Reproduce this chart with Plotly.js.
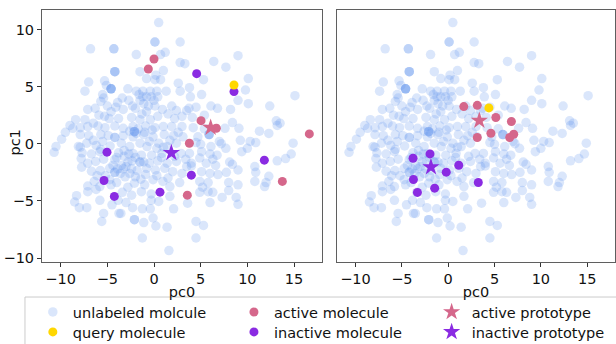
<!DOCTYPE html>
<html><head><meta charset="utf-8">
<script src="https://cdn.plot.ly/plotly-3.0.1.min.js"></script>
<style>html,body{margin:0;padding:0;background:#fff}#chart{width:616px;height:344px}</style>
</head><body><div id="chart"></div>
<script>
// unlabeled molecules (same embedding drawn in both panels)
const unlabeledX = [0.5,0.1,0.1,2.8,-6.8,-4.3,-4.3,1.2,0.7,-1.9,9.0,6.4,2.8,3.3,7.7,-4.2,-4.2,-4.2,
-1.5,1.0,0.2,-0.8,0.1,0.7,5.3,10.1,2.6,-7.0,-5.3,-5.1,-4.6,-4.6,-4.6,-4.6,-7.4,-2.8,-1.9,-1.2,-0.4,0.3,1.3,3.8,2.8,9.8,
-5.5,-5.4,-5.7,-6.3,-7.1,15.1,5.1,3.9,9.0,10.1,12.4,6.8,6.1,4.5,3.75,2.4,1.9,8.2,-3.4,-2.7,-1.2,-0.3,0.0,-1.1,-1.5,-2.0,
-4.1,-5.0,-3.3,-0.8,0.9,1.5,0.4,3.0,4.1,5.4,-8.4,-7.4,-6.5,-5.3,-4.8,-3.8,-2.4,-1.5,-0.4,8.4,13.1,13.5,13.2,9.1,7.6,11.3,12.3,
-9.0,-8.7,-7.9,-7.1,-6.0,-5.25,-4.2,-3.3,-2.25,-0.9,0.1,1.0,1.9,3.0,4.2,-9.5,-7.9,-7.0,-5.7,-4.2,-4.2,-3.3,-2.1,-2.1,-2.1,
-2.25,-1.1,-0.1,1.1,2.1,3.1,4.7,5.9,5.9,5.9,7.0,9.25,10.3,10.9,14.9,-9.9,-10.5,-8.1,-7.2,-6.2,-5.5,-4.7,-3.5,-2.6,-1.5,
-0.75,0.5,1.4,2.4,5.0,6.1,7.2,-10.7,-7.7,-6.7,-5.8,-3.8,-3.2,-2.25,-1.35,-0.25,0.85,2.9,3.8,5.1,6.0,6.75,9.4,10.0,14.7,14.1,
-7.8,-7.1,-6.25,-5.4,-4.2,-2.35,-1.5,-1.5,-0.5,0.4,1.4,2.4,3.4,4.0,4.9,5.6,6.3,8.4,9.0,10.8,13.2,-7.75,-6.7,-5.75,-4.75,
-4.2,-4.2,-3.3,-2.6,-1.8,-0.8,0.15,1.15,2.0,3.0,4.0,5.1,6.0,6.85,7.75,10.9,12.3,12.0,10.8,9.0,8.0,-7.1,-6.4,-5.8,-4.75,
-4.0,-2.8,-2.1,-1.0,-0.1,0.95,1.7,2.75,4.9,5.8,11.85,-8.3,-7.1,-6.2,-3.4,-2.4,-1.35,-0.3,1.7,4.9,5.8,6.3,7.3,8.0,8.8,
-8.5,-5.8,-3.85,-3.0,-2.3,-1.25,-0.3,0.5,2.1,3.6,6.0,9.0,-8.0,-7.2,-5.4,-4.5,-3.75,-3.55,-0.4,-2.1,-2.1,-1.1,-0.1,0.2,
1.4,4.5,5.3,-5.6,-1.25,4.5,1.6,
-3.5,-3.0,-2.8,-3.9,-4.4,-3.6,-3.1,-2.4,-4.0,-3.2,-2.7,-2.0,-1.9,-1.7,-2.6,-1.0,-0.5,0.3,-0.2,-1.3,-0.6,-1.6,-0.8,0.4,
0.1,-2.3,1.0,0.8,-1.1,-0.9,2.2,1.7,2.6,3.5,2.2,-4.6,-3.9,-5.9,-4.9,-5.7,-6.5,-5.2,-6.1,-4.6,-2.0,-1.4,0.3,1.5,3.5,4.5,
5.4,6.6,7.7,8.1,5.2,-7.9];
const unlabeledY = [10.6,8.9,8.9,8.9,8.3,8.3,8.3,8.0,7.8,7.8,7.7,7.2,7.1,7.0,6.7,6.3,6.3,6.3,
6.3,6.4,6.0,5.7,5.6,5.6,5.6,5.7,5.3,5.4,5.5,5.1,4.8,4.8,4.8,4.8,4.6,4.8,4.6,4.6,4.6,4.6,4.6,4.9,4.6,4.7,
4.3,4.0,3.7,3.1,3.0,4.2,4.3,4.1,3.8,3.5,3.3,3.1,3.3,3.2,3.1,2.9,3.3,3.0,4.0,3.8,4.1,4.1,3.8,3.5,3.8,3.1,
3.2,3.3,3.0,2.8,3.0,2.6,2.4,2.4,2.3,2.5,2.1,2.1,1.8,2.4,2.2,2.2,2.3,2.1,2.1,1.85,2.0,1.8,1.6,1.35,1.35,1.1,0.9,
1.6,1.35,1.4,1.5,1.55,1.4,1.55,1.35,1.5,1.55,1.4,1.5,1.5,1.5,1.4,1.0,0.8,0.7,0.8,0.55,0.55,0.7,1.05,1.05,1.05,
0.6,0.8,0.6,0.8,0.7,0.6,0.6,0.8,0.8,0.8,0.2,0.3,0.2,0.1,0.05,0.4,-0.25,-0.25,0.05,-0.15,0.2,-0.2,0.05,-0.25,0.05,
-0.25,0.05,-0.25,0.05,-0.05,-0.25,0.0,-0.75,-0.8,-0.9,-0.7,-0.8,-1.1,-0.85,-1.0,-1.0,-0.85,-0.85,-0.85,-0.7,-0.9,-1.0,-0.7,-0.4,-0.9,-1.3,
-1.3,-1.7,-1.55,-1.35,-1.4,-1.5,-1.6,-1.6,-1.7,-1.5,-1.7,-1.55,-1.35,-1.7,-1.25,-1.7,-1.35,-1.8,-2.3,-2.0,-1.5,-2.05,-2.4,-2.35,-2.15,
-2.5,-2.5,-2.2,-2.6,-2.35,-2.15,-2.3,-2.15,-2.45,-2.6,-1.95,-2.45,-2.6,-2.7,-2.5,-2.5,-2.85,-3.4,-3.3,-3.6,-3.4,-3.7,-3.3,-3.75,-3.15,
-3.4,-3.8,-3.45,-3.6,-3.15,-3.3,-3.75,-3.4,-3.3,-3.4,-3.75,-4.55,-4.2,-4.0,-4.25,-4.5,-4.2,-4.4,-4.6,-4.25,-4.2,-4.25,-4.7,-4.1,-4.7,
-5.1,-4.95,-4.95,-5.15,-5.6,-5.7,-4.95,-5.05,-5.7,-5.2,-5.15,-5.3,-5.6,-5.6,-6.1,-5.35,-6.1,-6.1,-5.7,-6.65,-6.65,-6.9,-6.5,-7.2,
-7.3,-6.8,-7.15,-6.8,-8.25,-8.25,-9.35,
-1.9,-2.0,-1.6,-2.2,-1.9,-2.6,-2.9,-2.2,-1.2,-0.6,-0.9,-1.2,0.9,1.3,1.1,1.0,0.2,-0.4,1.2,2.6,3.3,4.3,4.1,4.1,
3.3,3.3,-0.3,-1.2,-1.6,-2.7,-1.1,0.3,1.0,2.9,2.2,2.8,3.6,2.5,0.7,-0.5,0.3,-2.8,-2.8,-3.6,-2.9,-3.1,-2.8,-3.0,-2.0,0.1,
1.3,-1.9,-0.4,-1.6,-3.8,-0.3];

// left panel labeled molecules
const leftActiveX = [0.0,-0.61,5.04,6.68,3.79,16.64,13.75,3.57];
const leftActiveY = [7.41,6.54,2.02,1.35,0.04,0.86,-3.30,-4.50];
const leftInactiveX = [4.57,8.57,-5.04,-5.36,-4.25,0.64,4.0,11.82];
const leftInactiveY = [6.13,4.56,-0.74,-3.22,-4.61,-4.24,-2.75,-1.44];
const leftQueryX = [8.57], leftQueryY = [5.14];
const leftActiveProtoX = [6.07], leftActiveProtoY = [1.41];
const leftInactiveProtoX = [1.86], leftInactiveProtoY = [-0.80];

// right panel labeled molecules
const rightActiveX = [1.68,3.14,5.14,6.82,3.14,4.61,6.64,7.07];
const rightActiveY = [3.25,3.36,2.29,1.94,0.54,0.92,0.54,0.83];
const rightInactiveX = [-3.79,-1.96,1.14,-0.21,-3.75,-3.32,-1.46,3.25];
const rightInactiveY = [-1.27,-0.89,-1.88,-2.49,-3.13,-4.26,-3.89,-3.39];
const rightQueryX = [4.39], rightQueryY = [3.13];
const rightActiveProtoX = [3.36], rightActiveProtoY = [2.02];
const rightInactiveProtoX = [-1.86], rightInactiveProtoY = [-2.05];

const xTicks = [-10,-5,0,5,10,15];
const yTicks = [-10,-5,0,5,10];
const names = ['unlabeled molcule','query molecule','active molecule','inactive molecule','active prototype','inactive prototype'];

const C_UNL = 'rgba(100,149,237,0.24)';
const C_ACT = '#d5678b';
const C_INA = '#8a2be2';
const C_QRY = '#ffd700';

function panel(xa, ya, d, show) {
  const base = {type:'scatter', mode:'markers', xaxis:xa, yaxis:ya, showlegend:show, hoverinfo:'skip'};
  return [
    Object.assign({}, base, {x:unlabeledX, y:unlabeledY, name:names[0], legend:'legend',
      marker:{size:9.5, color:C_UNL, line:{width:0}}}),
    Object.assign({}, base, {x:d.ax, y:d.ay, name:names[2], legend:'legend3',
      marker:{size:9, color:C_ACT, line:{width:0}}}),
    Object.assign({}, base, {x:d.ix, y:d.iy, name:names[3], legend:'legend4',
      marker:{size:9, color:C_INA, line:{width:0}}}),
    Object.assign({}, base, {x:d.qx, y:d.qy, name:names[1], legend:'legend2',
      marker:{size:9, color:C_QRY, line:{width:0}}}),
    Object.assign({}, base, {x:d.apx, y:d.apy, name:names[4], legend:'legend5',
      marker:{size:13, symbol:'star', color:C_ACT, line:{width:0}}}),
    Object.assign({}, base, {x:d.ipx, y:d.ipy, name:names[5], legend:'legend6',
      marker:{size:13, symbol:'star', color:C_INA, line:{width:0}}})
  ];
}

const data = panel('x','y',{ax:leftActiveX,ay:leftActiveY,ix:leftInactiveX,iy:leftInactiveY,qx:leftQueryX,qy:leftQueryY,
  apx:leftActiveProtoX,apy:leftActiveProtoY,ipx:leftInactiveProtoX,ipy:leftInactiveProtoY}, true)
 .concat(panel('x2','y2',{ax:rightActiveX,ay:rightActiveY,ix:rightInactiveX,iy:rightInactiveY,qx:rightQueryX,qy:rightQueryY,
  apx:rightActiveProtoX,apy:rightActiveProtoY,ipx:rightInactiveProtoX,ipy:rightInactiveProtoY}, false));

const FONT = 'DejaVu Sans, Liberation Sans, sans-serif';
const FS = 14.5;
const axisCommon = {showline:true, mirror:true, linecolor:'#5f5f5f', linewidth:1, showgrid:false, zeroline:false,
  ticks:'outside', ticklen:4, tickwidth:1, tickcolor:'#333', tickfont:{family:FONT, size:FS, color:'#111'}, automargin:false};
const legCommon = {xanchor:'left', yanchor:'top', bgcolor:'rgba(0,0,0,0)', borderwidth:0,
  font:{family:FONT, size:FS, color:'#111'}, orientation:'v'};
const COLX = [-0.016, 0.335, 0.68];
const ROWY = [-0.135, -0.2143];

const layout = {
  width:616, height:344, margin:{l:42, r:1, t:10, b:82, autoexpand:false},
  paper_bgcolor:'#fff', plot_bgcolor:'#fff', font:{family:FONT},
  xaxis: Object.assign({}, axisCommon, {domain:[0,0.4887], range:[-12,18], tickvals:xTicks, anchor:'y',
    title:{text:'pc0', font:{family:FONT, size:FS, color:'#111'}, standoff:0}}),
  xaxis2: Object.assign({}, axisCommon, {domain:[0.5148,1], range:[-12,18], tickvals:xTicks, anchor:'y2',
    title:{text:'pc0', font:{family:FONT, size:FS, color:'#111'}, standoff:0}}),
  yaxis: Object.assign({}, axisCommon, {domain:[0,1], range:[-10.35,11.7], tickvals:yTicks, anchor:'x'}),
  yaxis2: Object.assign({}, axisCommon, {domain:[0,1], range:[-10.35,11.7], tickvals:yTicks, anchor:'x2',
    showticklabels:false, ticks:''}),
  legend:  Object.assign({}, legCommon, {x:COLX[0], y:ROWY[0]}),
  legend2: Object.assign({}, legCommon, {x:COLX[0], y:ROWY[1]}),
  legend3: Object.assign({}, legCommon, {x:COLX[1], y:ROWY[0]}),
  legend4: Object.assign({}, legCommon, {x:COLX[1], y:ROWY[1]}),
  legend5: Object.assign({}, legCommon, {x:COLX[2], y:ROWY[0]}),
  legend6: Object.assign({}, legCommon, {x:COLX[2], y:ROWY[1]}),
  annotations:[{text:'pc1', xref:'paper', yref:'paper', x:(15.5-42)/573, y:0.472, textangle:-90,
    showarrow:false, font:{family:FONT, size:FS, color:'#111'}, xanchor:'center', yanchor:'middle'}],
  shapes:[{type:'rect', xref:'paper', yref:'paper', x0:-0.0297, x1:1.02, y0:-0.139, y1:-0.36,
    line:{color:'#cccccc', width:1}, fillcolor:'rgba(0,0,0,0)', layer:'below'}]
};

Plotly.newPlot('chart', data, layout, {displayModeBar:false, staticPlot:true});
</script>
</body></html>
